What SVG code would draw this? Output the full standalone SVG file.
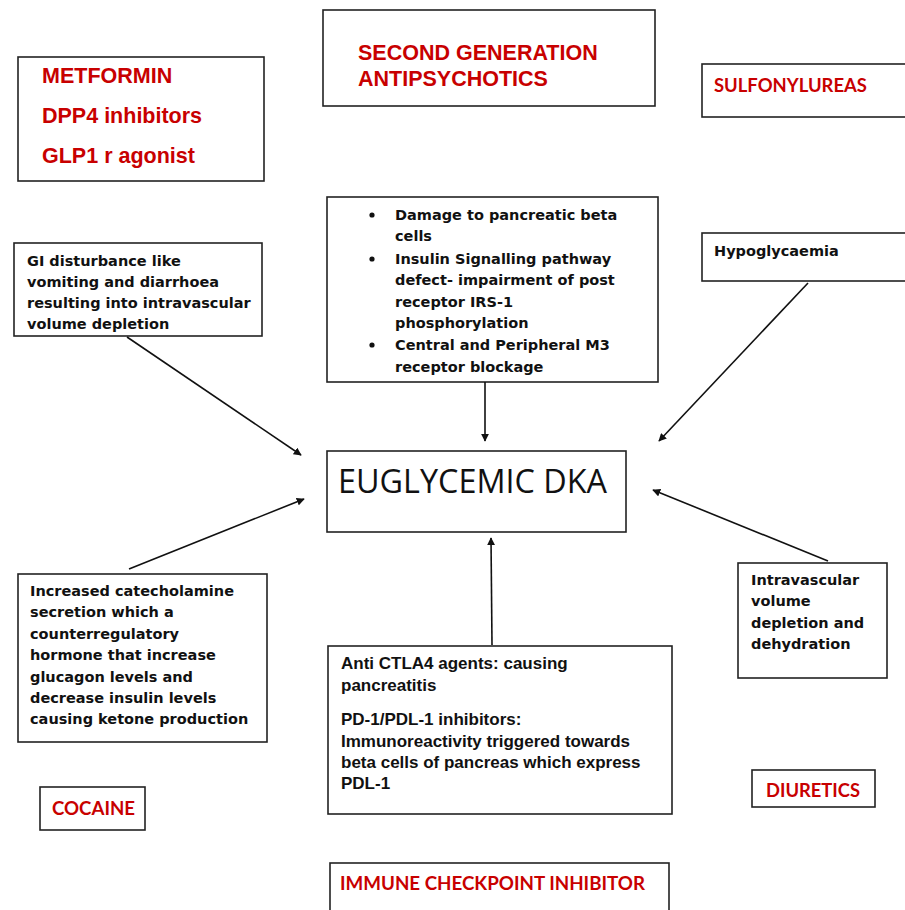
<svg xmlns="http://www.w3.org/2000/svg" width="905" height="910" viewBox="0 0 905 910">
<style>
.box{fill:#fff;stroke:#222;stroke-width:1.6}
.red{fill:#c80000;font-family:"Liberation Sans",Arial,sans-serif;font-weight:bold;font-size:21.5px}
.redc{fill:#c80000;font-family:Lato,"Open Sans",sans-serif;font-weight:bold}
.blk{fill:#111;font-family:"DejaVu Sans",sans-serif;font-weight:bold;font-size:14.5px}
.ari{fill:#111;font-family:"Liberation Sans",Arial,sans-serif;font-weight:bold;font-size:17px}
.main{fill:#111;font-family:"Open Sans",Lato,sans-serif;font-size:32px}
.conn{stroke:#111;stroke-width:1.6;fill:none;marker-end:url(#ah)}
</style>
<defs>
<marker id="ah" viewBox="0 0 10 10" refX="9" refY="5" markerWidth="8" markerHeight="8" markerUnits="userSpaceOnUse" orient="auto">
<path d="M0,0 L10,5 L0,10 z" fill="#111"/>
</marker>
</defs>
<rect width="905" height="910" fill="#fff"/>
<g id="metformin">
<rect class="box" x="18" y="57" width="246" height="124"/>
<text class="red" x="42" y="83">METFORMIN</text>
<text class="red" x="42" y="123">DPP4 inhibitors</text>
<text class="red" x="42" y="163">GLP1 r agonist</text>
</g>
<g id="sga">
<rect class="box" x="323" y="10" width="332" height="96"/>
<text class="red" x="358" y="60">SECOND GENERATION</text>
<text class="red" x="358" y="86">ANTIPSYCHOTICS</text>
</g>
<g id="sulfonylureas">
<rect class="box" x="702" y="64" width="210" height="53"/>
<text class="redc" x="714" y="92" font-size="18" textLength="153" lengthAdjust="spacingAndGlyphs">SULFONYLUREAS</text>
</g>
<g id="gi">
<rect class="box" x="14" y="243" width="248" height="93"/>
<text class="blk" x="27" y="266">GI disturbance like</text>
<text class="blk" x="27" y="287">vomiting and diarrhoea</text>
<text class="blk" x="27" y="308">resulting into intravascular</text>
<text class="blk" x="27" y="329">volume depletion</text>
</g>
<g id="mechanisms">
<rect class="box" x="327" y="197" width="331" height="185"/>
<g class="blk">
<circle cx="372" cy="215" r="2.6" fill="#111"/>
<circle cx="372" cy="259" r="2.6" fill="#111"/>
<circle cx="372" cy="345" r="2.6" fill="#111"/>
<text x="395" y="220">Damage to pancreatic beta</text>
<text x="395" y="241">cells</text>
<text x="395" y="264">Insulin Signalling pathway</text>
<text x="395" y="285">defect- impairment of post</text>
<text x="395" y="307">receptor IRS-1</text>
<text x="395" y="328">phosphorylation</text>
<text x="395" y="350">Central and Peripheral M3</text>
<text x="395" y="372">receptor blockage</text>
</g>
</g>
<g id="hypoglycaemia">
<rect class="box" x="702" y="233" width="210" height="48"/>
<text class="blk" x="714" y="256">Hypoglycaemia</text>
</g>
<g id="edka">
<rect class="box" x="327" y="451" width="299" height="81"/>
<text class="main" x="338" y="493" textLength="269" lengthAdjust="spacingAndGlyphs">EUGLYCEMIC DKA</text>
</g>
<g id="catecholamine">
<rect class="box" x="18" y="574" width="249" height="168"/>
<g class="blk">
<text x="30" y="596">Increased catecholamine</text>
<text x="30" y="617">secretion which a</text>
<text x="30" y="639">counterregulatory</text>
<text x="30" y="660">hormone that increase</text>
<text x="30" y="682">glucagon levels and</text>
<text x="30" y="703">decrease insulin levels</text>
<text x="30" y="724">causing ketone production</text>
</g>
</g>
<g id="intravascular">
<rect class="box" x="738" y="563" width="149" height="115"/>
<g class="blk">
<text x="751" y="585">Intravascular</text>
<text x="751" y="606">volume</text>
<text x="751" y="628">depletion and</text>
<text x="751" y="649">dehydration</text>
</g>
</g>
<g id="checkpoint-mech">
<rect class="box" x="328" y="646" width="344" height="168"/>
<g class="ari">
<text x="341" y="669">Anti CTLA4 agents: causing</text>
<text x="341" y="691">pancreatitis</text>
<text x="341" y="725">PD-1/PDL-1 inhibitors:</text>
<text x="341" y="747">Immunoreactivity triggered towards</text>
<text x="341" y="768">beta cells of pancreas which express</text>
<text x="341" y="789">PDL-1</text>
</g>
</g>
<g id="cocaine">
<rect class="box" x="40" y="787" width="105" height="43"/>
<text class="redc" x="52" y="815" font-size="18" textLength="83" lengthAdjust="spacingAndGlyphs">COCAINE</text>
</g>
<g id="diuretics">
<rect class="box" x="752" y="770" width="123" height="37"/>
<text class="redc" x="766" y="797" font-size="18" textLength="94" lengthAdjust="spacingAndGlyphs">DIURETICS</text>
</g>
<g id="ici">
<rect class="box" x="330" y="863" width="339" height="60"/>
<text class="redc" x="340" y="890" font-size="18" textLength="305" lengthAdjust="spacingAndGlyphs">IMMUNE CHECKPOINT INHIBITOR</text>
</g>
<g id="connectors">
<line class="conn" x1="127" y1="337" x2="301" y2="455"/>
<line class="conn" x1="129" y1="569" x2="304" y2="499"/>
<line class="conn" x1="485" y1="382" x2="485" y2="441"/>
<line class="conn" x1="808" y1="283" x2="659" y2="441"/>
<line class="conn" x1="828" y1="561" x2="653" y2="490"/>
<line class="conn" x1="492" y1="645" x2="491" y2="538"/>
</g>
</svg>
